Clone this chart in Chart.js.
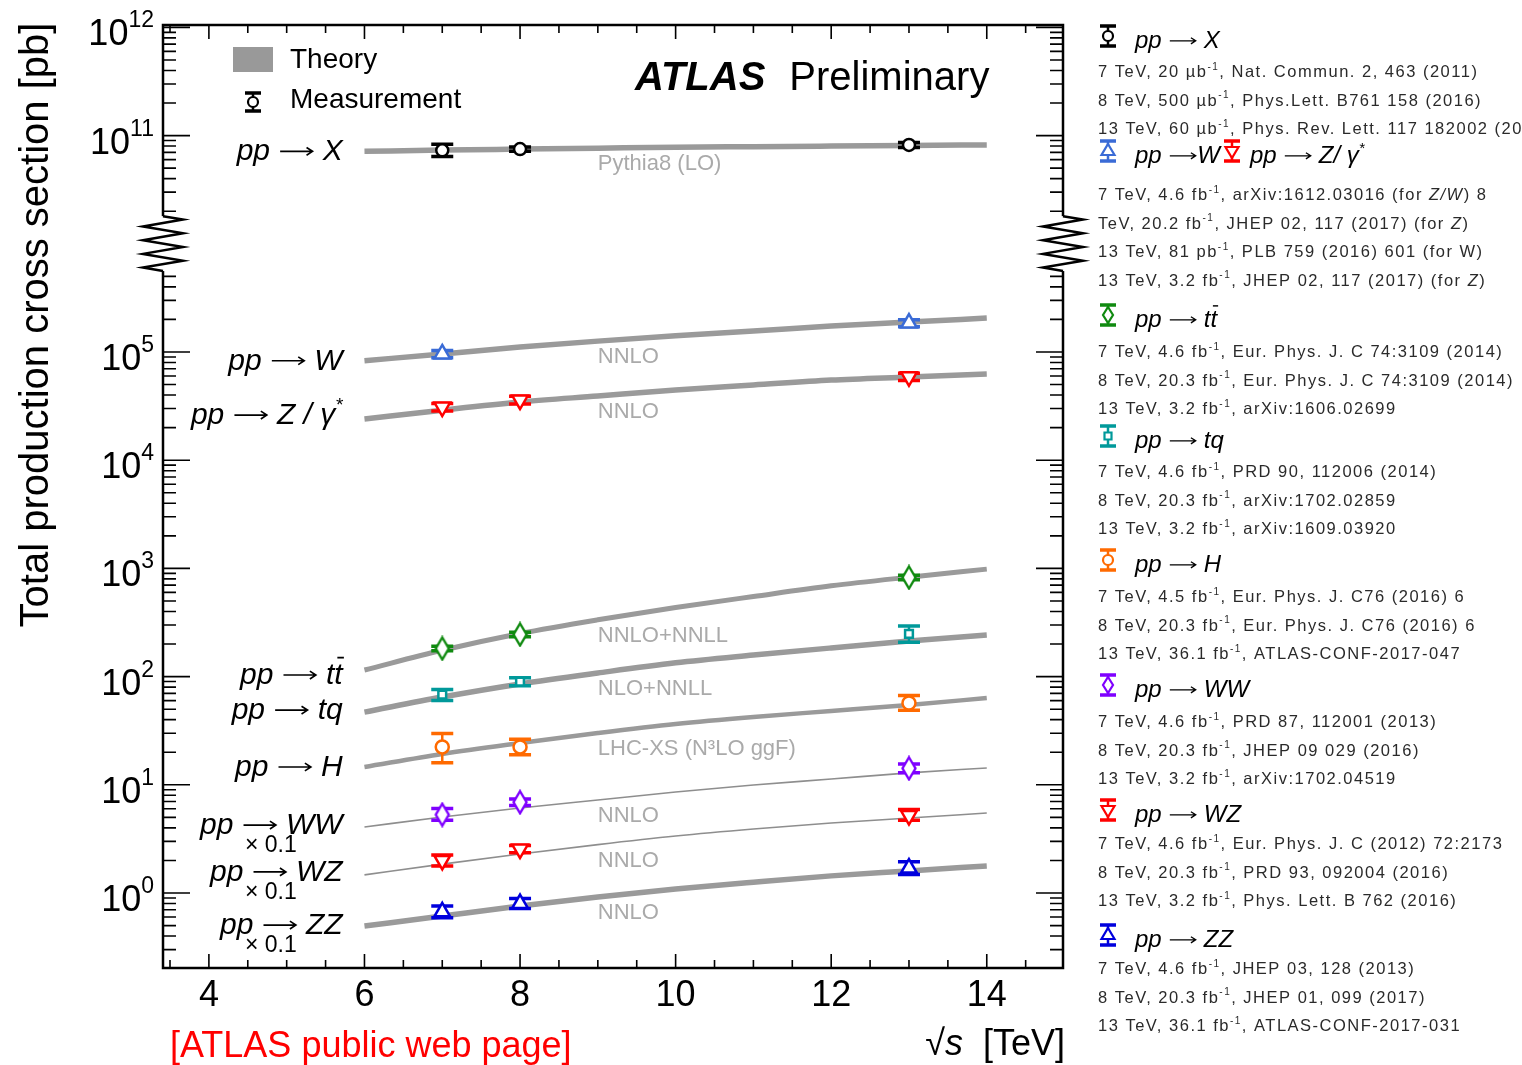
<!DOCTYPE html>
<html lang="en">
<head>
<meta charset="utf-8">
<title>Total production cross sections</title>
<script src="https://cdn.jsdelivr.net/npm/chart.js@4.4.1/dist/chart.umd.min.js"></script>
<style>
  html, body { margin: 0; padding: 0; background: #ffffff; }
  #box { width: 1522px; height: 1065px; }
</style>
</head>
<body>
<div id="box"><canvas id="xsecChart" width="1522" height="1065"></canvas></div>
<script>
// centre-of-mass energies [TeV]
const theoryEnergies = [6, 7, 8, 9, 10, 11, 12, 13, 14];
const measEnergies = [7, 8, 13];

// theory predictions [pb] (WW, WZ, ZZ already multiplied by 0.1, as drawn)
const thX  = [7.15e10, 7.35e10, 7.5e10, 7.65e10, 7.8e10, 7.9e10, 8.0e10, 8.1e10, 8.2e10];
const thW  = [8.3e4, 9.6e4, 1.11e5, 1.26e5, 1.41e5, 1.56e5, 1.74e5, 1.89e5, 2.06e5];
const thZ  = [2.4e4, 2.9e4, 3.45e4, 3.92e4, 4.45e4, 4.95e4, 5.5e4, 5.87e4, 6.26e4];
const thTT = [115, 175, 250, 335, 435, 550, 690, 830, 985];
const thTQ = [47, 64.7, 85.5, 108, 134, 158, 184, 213, 242];
const thH  = [14.6, 19.3, 24.3, 30.1, 36.5, 42.4, 48.1, 54.7, 63.4];
const thWW = [4.07, 5.04, 6.11, 7.24, 8.57, 9.95, 11.3, 12.9, 14.3];
const thWZ = [1.47, 1.85, 2.29, 2.8, 3.36, 3.9, 4.43, 4.93, 5.49];
const thZZ = [0.495, 0.613, 0.758, 0.918, 1.09, 1.26, 1.44, 1.6, 1.78];

// measurements [pb] at 7, 8, 13 TeV with upper / lower uncertainty
const measX  = [7.3e10, 7.5e10, 8.2e10];  const upX  = [1.0e10, 0.35e10, 0.45e10]; const dnX  = [0.9e10, 0.35e10, 0.45e10];
const measW  = [9.6e4, null, 1.85e5];     const upW  = [0.75e4, null, 1.4e4];      const dnW  = [0.75e4, null, 1.4e4];
const measZ  = [3.1e4, 3.6e4, 5.9e4];     const upZ  = [0.25e4, 0.3e4, 0.45e4];    const dnZ  = [0.25e4, 0.3e4, 0.45e4];
const measTT = [182, 245, 825];           const upTT = [9, 12, 40];                const dnTT = [9, 12, 40];
const measTQ = [68, 90, 248];             const upTQ = [8, 7.5, 46];               const dnTQ = [8, 7.5, 40];
const measH  = [22.4, 22.4, 57];          const upH  = [7.4, 3.9, 10];             const dnH  = [6.4, 3.4, 8];
const measWW = [5.3, 6.9, 14.2];          const upWW = [0.75, 0.5, 1.4];           const dnWW = [0.6, 0.45, 1.3];
const measWZ = [2.0, 2.55, 5.2];          const upWZ = [0.24, 0.2, 0.7];           const dnWZ = [0.22, 0.2, 0.5];
const measZZ = [0.67, 0.8, 1.7];          const upZZ = [0.09, 0.09, 0.25];         const dnZZ = [0.08, 0.08, 0.22];

// labelled ticks
const yLabelDecades = [0, 1, 2, 3, 4, 5, 11, 12];
const xLabelEnergies = [4, 6, 8, 10, 12, 14];

// references listed on the right
const refBlocks = [
  { headY: 48, lineY: 77, heads: [['circle', '#000000', 1108, 'pp → X', 1135]], lines: [
    '7 TeV, 20 µb^{-1}, Nat. Commun. 2, 463 (2011)',
    '8 TeV, 500 µb^{-1}, Phys.Lett. B761 158 (2016)',
    '13 TeV, 60 µb^{-1}, Phys. Rev. Lett. 117 182002 (2016)'] },
  { headY: 163, lineY: 200, heads: [['triUp', '#3a6bd6', 1108, 'pp →W', 1135], ['triDown', '#ff0000', 1232, 'pp → Z/ γ^{*}', 1250]], lines: [
    '7 TeV, 4.6 fb^{-1}, arXiv:1612.03016 (for |Z/W|) 8',
    'TeV, 20.2 fb^{-1}, JHEP 02, 117 (2017) (for |Z|)',
    '13 TeV, 81 pb^{-1}, PLB 759 (2016) 601 (for W)',
    '13 TeV, 3.2 fb^{-1}, JHEP 02, 117 (2017) (for |Z|)'] },
  { headY: 327, lineY: 357, heads: [['diamond', '#108a10', 1108, 'pp → t~{t}', 1135]], lines: [
    '7 TeV, 4.6 fb^{-1}, Eur. Phys. J. C 74:3109 (2014)',
    '8 TeV, 20.3 fb^{-1}, Eur. Phys. J. C 74:3109 (2014)',
    '13 TeV, 3.2 fb^{-1}, arXiv:1606.02699'] },
  { headY: 448, lineY: 477, heads: [['square', '#00999a', 1108, 'pp → tq', 1135]], lines: [
    '7 TeV, 4.6 fb^{-1}, PRD 90, 112006 (2014)',
    '8 TeV, 20.3 fb^{-1}, arXiv:1702.02859',
    '13 TeV, 3.2 fb^{-1}, arXiv:1609.03920'] },
  { headY: 572, lineY: 602, heads: [['circle', '#ff6a00', 1108, 'pp → H', 1135]], lines: [
    '7 TeV, 4.5 fb^{-1}, Eur. Phys. J. C76 (2016) 6',
    '8 TeV, 20.3 fb^{-1}, Eur. Phys. J. C76 (2016) 6',
    '13 TeV, 36.1 fb^{-1}, ATLAS-CONF-2017-047'] },
  { headY: 697, lineY: 727, heads: [['diamond', '#7f00ff', 1108, 'pp → WW', 1135]], lines: [
    '7 TeV, 4.6 fb^{-1}, PRD 87, 112001 (2013)',
    '8 TeV, 20.3 fb^{-1}, JHEP 09 029 (2016)',
    '13 TeV, 3.2 fb^{-1}, arXiv:1702.04519'] },
  { headY: 822, lineY: 849, heads: [['triDown', '#ff0000', 1108, 'pp → WZ', 1135]], lines: [
    '7 TeV, 4.6 fb^{-1}, Eur. Phys. J. C (2012) 72:2173',
    '8 TeV, 20.3 fb^{-1}, PRD 93, 092004 (2016)',
    '13 TeV, 3.2 fb^{-1}, Phys. Lett. B 762 (2016)'] },
  { headY: 947, lineY: 974, heads: [['triUp', '#0000dd', 1108, 'pp → ZZ', 1135]], lines: [
    '7 TeV, 4.6 fb^{-1}, JHEP 03, 128 (2013)',
    '8 TeV, 20.3 fb^{-1}, JHEP 01, 099 (2017)',
    '13 TeV, 36.1 fb^{-1}, ATLAS-CONF-2017-031'] }
];

const FONT = '"Liberation Sans", Arial, Helvetica, sans-serif';
const BREAK_LOW = 5.6e5, BREAK_HIGH = 1.8e10;

// log axis with the 10^6..10^10 range cut out
function squash(v) {
  const lg = Math.log10(v);
  return lg > 8 ? lg - 4 : lg;
}

const LinearBase = Chart.LinearScale || Chart.registry.getScale('linear');
class BrokenLogScale extends LinearBase {
  getPixelForValue(value) {
    if (value === null || value === undefined) return NaN;
    return super.getPixelForValue(squash(value));
  }
}
BrokenLogScale.id = 'brokenLog';
BrokenLogScale.defaults = LinearBase.defaults;
Chart.register(BrokenLogScale);

function diamondMarker(color) {
  const c = document.createElement('canvas');
  c.width = 18; c.height = 26;
  const g = c.getContext('2d');
  g.beginPath();
  g.moveTo(9, 2); g.lineTo(15.5, 13); g.lineTo(9, 24); g.lineTo(2.5, 13); g.closePath();
  g.fillStyle = '#ffffff'; g.fill();
  g.lineWidth = 2.4; g.strokeStyle = color; g.stroke();
  return c;
}

const processes = [
  { th: thX,  m: measX,  up: upX,  dn: dnX,  color: '#000000', marker: 'circle',   r: 6,   rot: 0,   width: 5.5, label: 'pp → X',        dy: 9,  model: 'Pythia8 (LO)' },
  { th: thW,  m: measW,  up: upW,  dn: dnW,  color: '#3a6bd6', marker: 'triangle', r: 9,   rot: 0,   width: 5.5, label: 'pp → W',        dy: 9,  model: 'NNLO' },
  { th: thZ,  m: measZ,  up: upZ,  dn: dnZ,  color: '#ff0000', marker: 'triangle', r: 9,   rot: 180, width: 5.5, label: 'pp → Z / γ^{*}', dy: 5,  model: 'NNLO' },
  { th: thTT, m: measTT, up: upTT, dn: dnTT, color: '#108a10', marker: diamondMarker('#108a10'), r: 9, rot: 0, width: 5, label: 'pp → t~{t}', dy: 14, model: 'NNLO+NNLL' },
  { th: thTQ, m: measTQ, up: upTQ, dn: dnTQ, color: '#00999a', marker: 'rect',     r: 5.5, rot: 0,   width: 5.5, label: 'pp → tq',       dy: 7,  model: 'NLO+NNLL' },
  { th: thH,  m: measH,  up: upH,  dn: dnH,  color: '#ff6a00', marker: 'circle',   r: 6.5, rot: 0,   width: 4.5, label: 'pp → H',        dy: 9,  model: 'LHC-XS (N³LO ggF)' },
  { th: thWW, m: measWW, up: upWW, dn: dnWW, color: '#7f00ff', marker: diamondMarker('#7f00ff'), r: 9, rot: 0, width: 1.6, label: 'pp → WW', dy: 7, model: 'NNLO', scaled: true },
  { th: thWZ, m: measWZ, up: upWZ, dn: dnWZ, color: '#ff0000', marker: 'triangle', r: 9,   rot: 180, width: 1.6, label: 'pp → WZ',       dy: 6,  model: 'NNLO', scaled: true },
  { th: thZZ, m: measZZ, up: upZZ, dn: dnZZ, color: '#0000dd', marker: 'triangle', r: 9,   rot: 0,   width: 5.5, label: 'pp → ZZ',       dy: 8,  model: 'NNLO', scaled: true }
];

const datasets = [];
processes.forEach(p => {
  datasets.push({
    data: theoryEnergies.map((e, i) => ({ x: e, y: p.th[i] })),
    borderColor: p.width < 3 ? '#8e8e8e' : '#9a9a9a',
    borderWidth: p.width,
    pointRadius: 0,
    cubicInterpolationMode: 'monotone',
    fill: false,
    order: 2
  });
  const pts = [];
  measEnergies.forEach((e, i) => {
    if (p.m[i] === null) return;
    pts.push({ x: e, y: p.m[i], up: p.up[i], dn: p.dn[i] });
  });
  datasets.push({
    data: pts,
    showLine: false,
    isMeasurement: true,
    borderColor: p.color,
    pointStyle: p.marker,
    pointRadius: p.r,
    pointRotation: p.rot,
    pointBorderWidth: 2.5,
    pointBorderColor: p.color,
    pointBackgroundColor: '#ffffff',
    order: 1
  });
});

// simple rich text: ^{sup}, ~{overlined}, |italic toggle|, drawn arrow
function parseRich(str, baseItalic) {
  const segs = [];
  let italic = !!baseItalic;
  str.split(/(\^\{[^}]*\}|~\{[^}]*\}|\||→)/).forEach(tok => {
    if (!tok) return;
    if (tok === '|') { italic = !italic; return; }
    if (tok === '→') segs.push({ text: '', arrow: true });
    else if (tok.startsWith('^{')) segs.push({ text: tok.slice(2, -1), sup: true, italic });
    else if (tok.startsWith('~{')) segs.push({ text: tok.slice(2, -1), bar: true, italic });
    else segs.push({ text: tok, italic });
  });
  return segs;
}

function drawRich(ctx, str, x, y, o) {
  const size = o.size;
  const supSize = Math.round(size * (o.supScale || 0.62));
  const segs = parseRich(str, o.italic);
  const fontOf = s => (s.italic ? 'italic ' : '') + (o.bold ? 'bold ' : '') + (s.sup ? supSize : size) + 'px ' + FONT;
  ctx.letterSpacing = o.spacing || '0px';
  let total = 0;
  segs.forEach(s => {
    if (s.arrow) { s.w = size * 1.2; }
    else { ctx.font = fontOf(s); s.w = ctx.measureText(s.text).width; }
    total += s.w;
  });
  let cx = o.align === 'right' ? x - total : o.align === 'center' ? x - total / 2 : x;
  const color = o.color || '#000000';
  ctx.fillStyle = color;
  ctx.textAlign = 'left';
  ctx.textBaseline = 'alphabetic';
  segs.forEach(s => {
    if (s.arrow) {
      const ay = y - size * 0.3, x0 = cx + size * 0.06, x1 = cx + s.w - size * 0.06, h = size * 0.2;
      ctx.save();
      ctx.strokeStyle = color;
      ctx.lineWidth = Math.max(1.3, size * 0.055);
      ctx.beginPath();
      ctx.moveTo(x0, ay); ctx.lineTo(x1, ay);
      ctx.moveTo(x1 - h, ay - h * 0.65); ctx.lineTo(x1, ay); ctx.lineTo(x1 - h, ay + h * 0.65);
      ctx.stroke();
      ctx.restore();
      cx += s.w;
      return;
    }
    ctx.font = fontOf(s);
    ctx.fillText(s.text, cx, s.sup ? y - size * (o.supRaise || 0.42) : y);
    if (s.bar) {
      ctx.save();
      ctx.strokeStyle = color;
      ctx.lineWidth = Math.max(1.2, size * 0.06);
      ctx.beginPath();
      ctx.moveTo(cx + size * 0.1, y - size * 0.88);
      ctx.lineTo(cx + s.w + size * 0.04, y - size * 0.88);
      ctx.stroke();
      ctx.restore();
    }
    cx += s.w;
  });
  ctx.letterSpacing = '0px';
  return total;
}

// marker glyph with error bar, for the legends
function drawIcon(ctx, shape, cx, cy, color, half) {
  ctx.save();
  ctx.strokeStyle = color;
  ctx.lineWidth = 2.5;
  ctx.beginPath(); ctx.moveTo(cx, cy - half); ctx.lineTo(cx, cy + half); ctx.stroke();
  ctx.lineWidth = 3.5;
  ctx.beginPath();
  ctx.moveTo(cx - 8, cy - half); ctx.lineTo(cx + 8, cy - half);
  ctx.moveTo(cx - 8, cy + half); ctx.lineTo(cx + 8, cy + half);
  ctx.stroke();
  ctx.lineWidth = 2.2;
  ctx.fillStyle = '#ffffff';
  ctx.beginPath();
  if (shape === 'circle') ctx.arc(cx, cy, 5, 0, Math.PI * 2);
  else if (shape === 'triUp') { ctx.moveTo(cx, cy - 7); ctx.lineTo(cx + 6.5, cy + 4); ctx.lineTo(cx - 6.5, cy + 4); ctx.closePath(); }
  else if (shape === 'triDown') { ctx.moveTo(cx, cy + 7); ctx.lineTo(cx + 6.5, cy - 4); ctx.lineTo(cx - 6.5, cy - 4); ctx.closePath(); }
  else if (shape === 'diamond') { ctx.moveTo(cx, cy - 8); ctx.lineTo(cx + 5, cy); ctx.lineTo(cx, cy + 8); ctx.lineTo(cx - 5, cy); ctx.closePath(); }
  else ctx.rect(cx - 3.5, cy - 3.5, 7, 7);
  ctx.fill(); ctx.stroke();
  ctx.restore();
}

function drawZigzag(ctx, x0, yS, yE) {
  ctx.save();
  ctx.fillStyle = '#ffffff';
  ctx.fillRect(x0 - 4, yS, 8, yE - yS);
  ctx.strokeStyle = '#000000';
  ctx.lineWidth = 2.5;
  ctx.lineJoin = 'miter';
  ctx.beginPath();
  ctx.moveTo(x0, yS);
  const n = 8, amp = 20;
  for (let i = 0; i < n; i++) {
    const y = yS + (yE - yS) * (i + 0.5) / n;
    ctx.lineTo(x0 + (i % 2 === 0 ? amp : -amp), y);
  }
  ctx.lineTo(x0, yE);
  ctx.stroke();
  ctx.restore();
}

const errorBarPlugin = {
  id: 'errorBars',
  beforeDatasetDraw(chart, args) {
    const ds = chart.data.datasets[args.index];
    if (!ds.isMeasurement) return;
    const { ctx } = chart;
    const xs = chart.scales.x, ys = chart.scales.y;
    ctx.save();
    ctx.strokeStyle = ds.borderColor;
    ds.data.forEach(p => {
      const px = xs.getPixelForValue(p.x);
      const yHi = ys.getPixelForValue(p.y + p.up);
      const yLo = ys.getPixelForValue(p.y - p.dn);
      ctx.lineWidth = 2.5;
      ctx.beginPath(); ctx.moveTo(px, yHi); ctx.lineTo(px, yLo); ctx.stroke();
      ctx.lineWidth = 3.5;
      ctx.beginPath();
      ctx.moveTo(px - 11, yHi); ctx.lineTo(px + 11, yHi);
      ctx.moveTo(px - 11, yLo); ctx.lineTo(px + 11, yLo);
      ctx.stroke();
    });
    ctx.restore();
  }
};

const decorPlugin = {
  id: 'atlasDecor',
  afterDraw(chart) {
    const { ctx, chartArea: a } = chart;
    const xs = chart.scales.x, ys = chart.scales.y;
    ctx.save();

    // frame
    ctx.strokeStyle = '#000000';
    ctx.lineWidth = 2.5;
    ctx.strokeRect(a.left, a.top, a.right - a.left, a.bottom - a.top);

    // y ticks, both sides
    ctx.lineWidth = 1.6;
    for (let k = -1; k <= 12; k++) {
      for (let m = 1; m <= 9; m++) {
        const v = m * Math.pow(10, k);
        if (v > BREAK_LOW && v < BREAK_HIGH) continue;
        if (k === 12 && m > 1) continue;
        const py = ys.getPixelForValue(v);
        if (py < a.top - 0.5 || py > a.bottom + 0.5) continue;
        const len = m === 1 ? 27 : 13;
        ctx.beginPath();
        ctx.moveTo(a.left, py); ctx.lineTo(a.left + len, py);
        ctx.moveTo(a.right, py); ctx.lineTo(a.right - len, py);
        ctx.stroke();
      }
    }
    // x ticks, bottom and top
    for (let e = 3.5; e <= 14.9; e += 0.5) {
      const px = xs.getPixelForValue(e);
      const len = e % 2 === 0 ? 14 : 8;
      ctx.beginPath();
      ctx.moveTo(px, a.bottom); ctx.lineTo(px, a.bottom - len);
      ctx.moveTo(px, a.top); ctx.lineTo(px, a.top + len);
      ctx.stroke();
    }

    // axis break
    const yS = ys.getPixelForValue(BREAK_HIGH), yE = ys.getPixelForValue(BREAK_LOW);
    drawZigzag(ctx, a.left, yS, yE);
    drawZigzag(ctx, a.right, yS, yE);

    // tick labels
    yLabelDecades.forEach(k => {
      const py = ys.getPixelForValue(Math.pow(10, k));
      drawRich(ctx, '10^{' + k + '}', 154, py + 18, { size: 36, align: 'right', supScale: 0.64, supRaise: 0.5 });
    });
    xLabelEnergies.forEach(e => {
      drawRich(ctx, String(e), xs.getPixelForValue(e), 1006, { size: 36, align: 'center' });
    });

    // axis titles
    drawRich(ctx, '√|s|  [TeV]', 1065, 1055, { size: 36, align: 'right' });
    ctx.save();
    ctx.translate(48, 325);
    ctx.rotate(-Math.PI / 2);
    drawRich(ctx, 'Total production cross section [pb]', 0, 0, { size: 40, align: 'center' });
    ctx.restore();

    // legend in the frame
    ctx.fillStyle = '#999999';
    ctx.fillRect(233, 47, 40, 25);
    drawRich(ctx, 'Theory', 290, 68, { size: 28 });
    drawIcon(ctx, 'circle', 253, 102, '#000000', 9);
    drawRich(ctx, 'Measurement', 290, 108, { size: 28 });
    const wAtlas = drawRich(ctx, 'ATLAS', 635, 90, { size: 40, bold: true, italic: true });
    drawRich(ctx, 'Preliminary', 635 + wAtlas + 24, 90, { size: 40 });

    // process and model labels anchored to the theory curves
    const xLab = xs.getPixelForValue(5.72);
    const xModel = xs.getPixelForValue(9.0);
    processes.forEach(p => {
      const y6 = ys.getPixelForValue(p.th[0]);
      drawRich(ctx, p.label, xLab, y6 + p.dy, { size: 30, italic: true, align: 'right' });
      if (p.scaled) drawRich(ctx, '× 0.1', 245, y6 + p.dy + 18, { size: 23 });
      const y9 = ys.getPixelForValue(p.th[3]);
      drawRich(ctx, p.model, xModel, y9 + 22, { size: 22, color: '#aaaaaa' });
    });

    // reference list
    refBlocks.forEach(b => {
      b.heads.forEach(h => {
        drawIcon(ctx, h[0], h[2], b.headY - 12, h[1], 10);
        drawRich(ctx, h[3], h[4], b.headY, { size: 24, italic: true });
      });
      b.lines.forEach((t, i) => {
        drawRich(ctx, t, 1098, b.lineY + i * 28.5, { size: 16.5, color: '#2a2a2a', spacing: '1.5px', supRaise: 0.45 });
      });
    });

    drawRich(ctx, '[ATLAS public web page]', 170, 1057, { size: 36, color: '#ff0000' });
    ctx.restore();
  }
};

const ctx = document.getElementById('xsecChart').getContext('2d');
const xsecChart = new Chart(ctx, {
  type: 'line',
  data: { datasets: datasets },
  options: {
    responsive: false,
    animation: false,
    devicePixelRatio: 1,
    events: [],
    layout: { padding: { left: 163, top: 25, right: 459, bottom: 97 } },
    plugins: { legend: { display: false }, tooltip: { enabled: false } },
    scales: {
      x: { type: 'linear', min: 3.41, max: 14.98, bounds: 'data', display: false },
      y: { type: 'brokenLog', min: -0.693, max: 8.022, bounds: 'data', display: false }
    }
  },
  plugins: [errorBarPlugin, decorPlugin]
});
</script>
</body>
</html>
